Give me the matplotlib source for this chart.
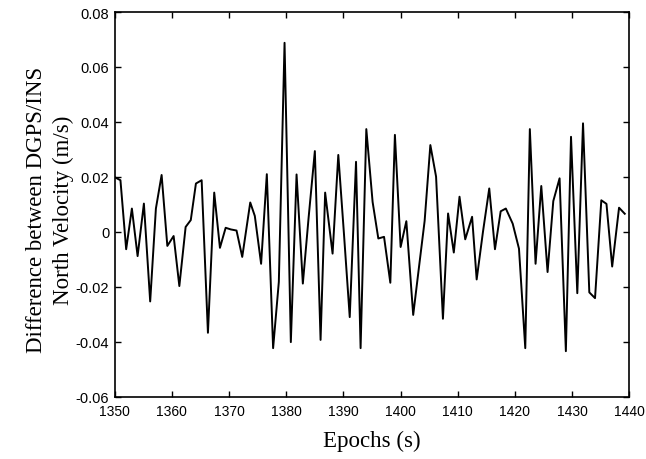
import matplotlib
matplotlib.use("Agg")
from matplotlib import pyplot as plt

plt.rcParams['axes.unicode_minus'] = False

# epochs (s) and DGPS/INS north velocity difference (m/s)
epochs = [1350.0, 1351.0, 1352.0, 1353.0, 1354.0, 1355.1, 1356.2, 1357.2, 1358.2, 1359.2,
          1360.3, 1361.3, 1362.4, 1363.3, 1364.2, 1365.2, 1366.3, 1367.4, 1368.4, 1369.4,
          1370.3, 1371.3, 1372.3, 1373.7, 1374.5, 1375.6, 1376.6, 1377.7, 1378.7, 1379.7,
          1380.8, 1381.8, 1382.9, 1383.9, 1385.0, 1386.0, 1386.8, 1388.1, 1389.1, 1390.1,
          1391.1, 1392.2, 1393.0, 1394.0, 1395.1, 1396.1, 1397.1, 1398.2, 1399.0, 1400.0,
          1401.0, 1402.2, 1403.2, 1404.2, 1405.2, 1406.2, 1407.4, 1408.3, 1409.3, 1410.3,
          1411.3, 1412.5, 1413.3, 1414.4, 1415.5, 1416.5, 1417.5, 1418.4, 1419.6, 1420.7,
          1421.8, 1422.6, 1423.6, 1424.6, 1425.7, 1426.7, 1427.8, 1428.9, 1429.8, 1430.9,
          1431.9, 1433.0, 1434.0, 1435.1, 1436.0, 1437.0, 1438.2, 1439.2]

dv_north = [0.0199, 0.0188, -0.0063, 0.0085, -0.0088, 0.0103, -0.0253, 0.0085, 0.0207, -0.0051,
            -0.0015, -0.0197, 0.0018, 0.0043, 0.0176, 0.0188, -0.0367, 0.0143, -0.0058, 0.0015,
            0.0009, 0.0005, -0.0091, 0.0107, 0.0058, -0.0116, 0.0210, -0.0423, -0.0182, 0.0688,
            -0.0401, 0.0209, -0.0188, 0.0050, 0.0294, -0.0393, 0.0143, -0.0079, 0.0280, -0.0010,
            -0.0310, 0.0255, -0.0423, 0.0374, 0.0109, -0.0024, -0.0018, -0.0185, 0.0353, -0.0055,
            0.0039, -0.0302, -0.0130, 0.0040, 0.0316, 0.0201, -0.0316, 0.0067, -0.0075, 0.0128,
            -0.0027, 0.0055, -0.0173, 0.0000, 0.0158, -0.0063, 0.0075, 0.0085, 0.0030, -0.0061,
            -0.0423, 0.0374, -0.0116, 0.0167, -0.0146, 0.0112, 0.0195, -0.0434, 0.0346, -0.0223,
            0.0395, -0.0220, -0.0241, 0.0115, 0.0102, -0.0126, 0.0088, 0.0066]

xticks = [1350, 1360, 1370, 1380, 1390, 1400, 1410, 1420, 1430, 1440]
yticks = [-0.06, -0.04, -0.02, 0, 0.02, 0.04, 0.06, 0.08]
ylabels = ['-0.06', '-0.04', '-0.02', '0', '0.02', '0.04', '0.06', '0.08']

fig = plt.figure(figsize=(6.46, 4.60), dpi=100)
ax = fig.add_axes([0.1776, 0.1352, 0.7966, 0.8365])

ax.plot(epochs, dv_north, color='black', linewidth=1.4)

ax.set_xlim(1350, 1440)
ax.set_ylim(-0.06, 0.08)
ax.set_xticks(xticks)
ax.set_xticklabels([str(t) for t in xticks], fontfamily='Liberation Sans', fontsize=10)
ax.set_yticks(yticks)
ax.set_yticklabels(ylabels, fontfamily='Liberation Sans', fontsize=10.5)
ax.tick_params(direction='in', length=4, width=1, top=True, right=True)
ax.tick_params(axis='x', pad=5)
ax.tick_params(axis='y', pad=4)
for s in ax.spines.values():
    s.set_linewidth(1.2)

ax.set_xlabel('Epochs (s)', fontfamily='Liberation Serif', fontsize=16.5, labelpad=9)
fig.text(50 / 646, 0.543, 'Difference between DGPS/INS\nNorth Velocity (m/s)',
         fontfamily='Liberation Serif', fontsize=16.5, rotation=90,
         ha='center', va='center', linespacing=1.3, multialignment='center')

fig.savefig('out.png', dpi=100)
